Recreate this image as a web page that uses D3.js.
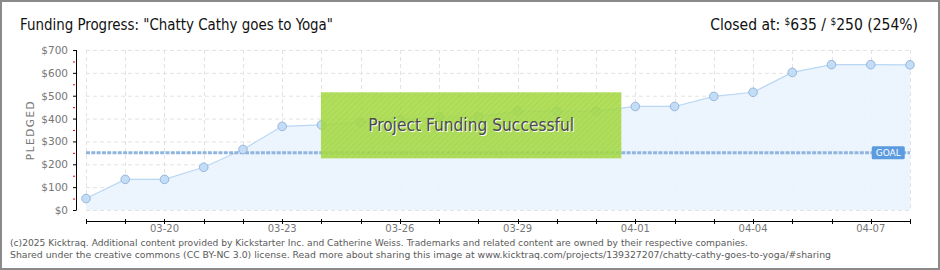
<!DOCTYPE html>
<html>
<head>
<meta charset="utf-8">
<script src="https://cdn.jsdelivr.net/npm/d3@7"></script>
<style>
  body { margin: 0; background: #fff; }
  svg { display: block; }
  .grid line { stroke: #e3e3e3; stroke-dasharray: 4,3; }
  .ylab { font-family: "DejaVu Sans", Verdana, sans-serif; font-size: 10.5px; fill: #777; }
  .xlab { font-family: "DejaVu Sans", Verdana, sans-serif; font-size: 10px; fill: #777; }
  .foot { font-family: "DejaVu Sans", Verdana, sans-serif; font-size: 9.5px; fill: #5a5a5a; }
  .head { font-family: "DejaVu Sans Condensed", "Liberation Sans Narrow", sans-serif; fill: #111; }
</style>
</head>
<body>
<svg id="chart" width="940" height="270"></svg>
<script>
// daily pledged totals, 03-18 .. 04-08
const days = ["03-18","03-19","03-20","03-21","03-22","03-23","03-24","03-25","03-26","03-27","03-28",
              "03-29","03-30","03-31","04-01","04-02","04-03","04-04","04-05","04-06","04-07","04-08"];
const pledged = [50, 134, 134, 187, 265, 366, 372, 383, 395, 408, 408,
                 432, 432, 432, 453, 453, 497, 515, 602, 636, 636, 635];
const goal = 250;
const yTicks = [0, 100, 200, 300, 400, 500, 600, 700];
const xLabelDays = ["03-20","03-23","03-26","03-29","04-01","04-04","04-07"];
const footer = [
  "(c)2025 Kicktraq. Additional content provided by Kickstarter Inc. and Catherine Weiss. Trademarks and related content are owned by their respective companies.",
  "Shared under the creative commons (CC BY-NC 3.0) license. Read more about sharing this image at www.kicktraq.com/projects/139327207/chatty-cathy-goes-to-yoga/#sharing"
];

const svg = d3.select("#chart");
const W = 940, H = 270;
const m = {left: 86, right: 910, top: 50, bottom: 210};

// outer frame
svg.append("rect").attr("x", 1).attr("y", 1).attr("width", W - 2).attr("height", H - 2)
  .attr("fill", "#fff").attr("stroke", "#8a8a8a").attr("stroke-width", 2);

const x = d3.scalePoint().domain(days).range([m.left, m.right]);
const y = d3.scaleLinear().domain([0, 700]).range([m.bottom, m.top]);

// grid
const grid = svg.append("g").attr("class", "grid");
grid.selectAll(".h").data(yTicks).join("line")
  .attr("x1", m.left).attr("x2", m.right)
  .attr("y1", d => y(d) + 0.5).attr("y2", d => y(d) + 0.5);
grid.selectAll(".v").data(days).join("line")
  .attr("x1", d => Math.round(x(d)) + 0.5).attr("x2", d => Math.round(x(d)) + 0.5)
  .attr("y1", m.top).attr("y2", m.bottom);

// area + line
const area = d3.area().x((d, i) => x(days[i])).y0(y(0)).y1(d => y(d));
const line = d3.line().x((d, i) => x(days[i])).y(d => y(d));
svg.append("path").datum(pledged).attr("d", area).attr("fill", "#eaf3fd").attr("fill-opacity", 0.9);
svg.append("path").datum(pledged).attr("d", line).attr("fill", "none").attr("stroke", "#b9d7f4").attr("stroke-width", 1.2);

// goal line
svg.append("line").attr("x1", m.left).attr("x2", m.right)
  .attr("y1", y(goal)).attr("y2", y(goal))
  .attr("stroke", "#8fb5df").attr("stroke-width", 3).attr("stroke-dasharray", "4,1.3");

// points
svg.selectAll(".pt").data(pledged).join("circle")
  .attr("cx", (d, i) => x(days[i])).attr("cy", d => y(d)).attr("r", 4.3)
  .attr("fill", "#c3ddf7").attr("stroke", "#8fb0d6").attr("stroke-width", 0.9);

// goal tag
const gx = x("04-07") + 1, gy = y(goal);
svg.append("rect").attr("x", gx).attr("y", gy - 6.5).attr("width", 33).attr("height", 13)
  .attr("rx", 1.5).attr("fill", "#5b9be0");
svg.append("text").attr("x", gx + 16.5).attr("y", gy + 3.5).attr("text-anchor", "middle")
  .attr("font-family", "DejaVu Sans, sans-serif").attr("font-size", 9).attr("fill", "#fff")
  .text("GOAL");

// success banner
const bx0 = x("03-24") - 0.5, bx1 = x("04-01") - 14;
const by0 = y(515), by1 = y(226);
const pat = svg.append("defs").append("pattern").attr("id", "hatch")
  .attr("width", 4).attr("height", 4).attr("patternUnits", "userSpaceOnUse")
  .attr("patternTransform", "rotate(45)");
pat.append("rect").attr("width", 4).attr("height", 4).attr("fill", "#a6da45");
pat.append("line").attr("x1", 0).attr("y1", 0).attr("x2", 0).attr("y2", 4)
  .attr("stroke", "#9dcf3f").attr("stroke-width", 1.5);
svg.append("rect").attr("x", bx0).attr("y", by0).attr("width", bx1 - bx0).attr("height", by1 - by0)
  .attr("fill", "url(#hatch)").attr("opacity", 0.88);
const bt = svg.append("g").attr("font-family", "DejaVu Sans Condensed, Liberation Sans Narrow, sans-serif")
  .attr("font-size", 18).attr("text-anchor", "middle");
bt.append("text").attr("x", (bx0 + bx1) / 2 + 1).attr("y", (by0 + by1) / 2 + 7).attr("fill", "#fff")
  .attr("textLength", 206).attr("lengthAdjust", "spacingAndGlyphs").text("Project Funding Successful");
bt.append("text").attr("x", (bx0 + bx1) / 2).attr("y", (by0 + by1) / 2 + 6).attr("fill", "#4a4a4a")
  .attr("textLength", 206).attr("lengthAdjust", "spacingAndGlyphs").text("Project Funding Successful");

// y axis
const axX = 76;
svg.append("line").attr("x1", axX + 0.5).attr("x2", axX + 0.5).attr("y1", m.top).attr("y2", m.bottom + 0.5)
  .attr("stroke", "#000");
svg.selectAll(".yt").data(yTicks).join("line")
  .attr("x1", axX - 3).attr("x2", axX).attr("y1", d => y(d) + 0.5).attr("y2", d => y(d) + 0.5)
  .attr("stroke", "#000");
svg.selectAll(".ym").data(yTicks.slice(0, -1)).join("line")
  .attr("x1", axX - 3).attr("x2", axX - 1).attr("y1", d => y(d + 50) + 0.5).attr("y2", d => y(d + 50) + 0.5)
  .attr("stroke", "#e00");
svg.selectAll(".yl").data(yTicks).join("text").attr("class", "ylab")
  .attr("x", 68).attr("y", d => y(d) + 4).attr("text-anchor", "end")
  .text(d => "$" + d);
svg.append("text").attr("class", "ylab")
  .attr("transform", `translate(34,${(m.top + m.bottom) / 2}) rotate(-90)`)
  .attr("text-anchor", "middle").attr("font-size", 8.5).attr("letter-spacing", 1.5)
  .text("PLEDGED");

// x axis
const axY = 221;
svg.append("line").attr("x1", m.left).attr("x2", m.right).attr("y1", axY + 0.5).attr("y2", axY + 0.5)
  .attr("stroke", "#000");
svg.selectAll(".xt").data(days).join("line")
  .attr("x1", d => Math.round(x(d)) + 0.5).attr("x2", d => Math.round(x(d)) + 0.5)
  .attr("y1", axY - 2).attr("y2", axY + 3).attr("stroke", "#000");
svg.selectAll(".xl").data(xLabelDays).join("text").attr("class", "xlab")
  .attr("x", d => x(d)).attr("y", axY + 11).attr("text-anchor", "middle")
  .text(d => d);

// headings
svg.append("text").attr("class", "head").attr("x", 20).attr("y", 30).attr("font-size", 16)
  .attr("textLength", 313).attr("lengthAdjust", "spacingAndGlyphs")
  .text("Funding Progress: \"Chatty Cathy goes to Yoga\"");
const cl = svg.append("text").attr("class", "head").attr("x", 918).attr("y", 30)
  .attr("font-size", 15.5).attr("text-anchor", "end");
cl.append("tspan").text("Closed at:  ");
cl.append("tspan").attr("font-size", 10).attr("dy", -5).text("$");
cl.append("tspan").attr("dy", 5).text("635 /  ");
cl.append("tspan").attr("font-size", 10).attr("dy", -5).text("$");
cl.append("tspan").attr("dy", 5).text("250 (254%)");

// footer
svg.selectAll(".ft").data(footer).join("text").attr("class", "foot")
  .attr("x", 10).attr("y", (d, i) => 246 + i * 12)
  .attr("textLength", (d, i) => i === 0 ? 738 : 821).attr("lengthAdjust", "spacingAndGlyphs")
  .text(d => d);
</script>
</body>
</html>
